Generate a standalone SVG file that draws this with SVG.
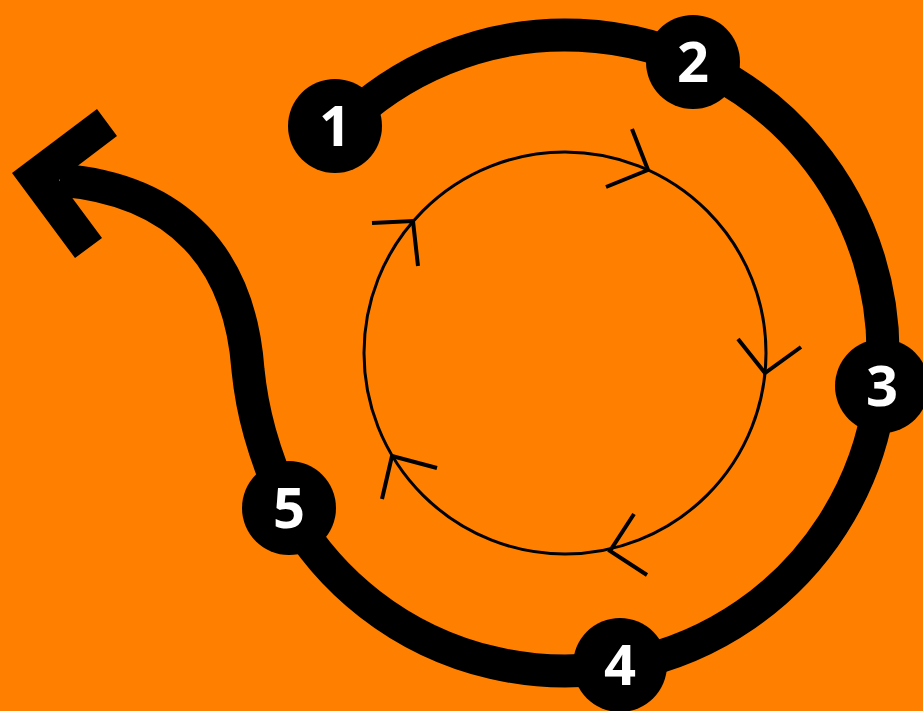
<svg xmlns="http://www.w3.org/2000/svg" width="923" height="711" viewBox="0 0 923 711">
<style>
.thick{fill:none;stroke:#000;stroke-width:33}
.thin{fill:none;stroke:#000;stroke-width:3}
.head{fill:none;stroke:#000;stroke-width:4;stroke-linecap:butt}
.node circle{fill:#000}
.node text{fill:#fff;font-family:"Open Sans","Liberation Sans",sans-serif;font-weight:bold;font-size:56px;text-anchor:middle}
</style>
<rect width="923" height="711" fill="#FF7F00"/>
<g id="connectors">
<path class="thick" d="M 340.1,128.1 A 318 318 0 1 1 287.7,508.6 C 262,450 252,410 248,370 C 240,260 180,190 60,180"/>
<polygon points="12,173 97,109 117,136 59,180 102,238 75,258" fill="#000"/>
<circle class="thin" cx="565" cy="353" r="201"/>
<polyline class="head" points="632,129 648,170 606,187"/>
<polyline class="head" points="738,339 765,373 801,347"/>
<polyline class="head" points="634,514 610,551 647,575"/>
<polyline class="head" points="437,468 392,456 382,499"/>
<polyline class="head" points="372,223 413,221 418,266"/>
</g>
<g id="node1" class="node"><circle cx="335" cy="126" r="47"/><text x="335" y="146">1</text></g>
<g id="node2" class="node"><circle cx="693" cy="62" r="47"/><text x="693" y="82">2</text></g>
<g id="node3" class="node"><circle cx="882" cy="386" r="47"/><text x="882" y="406">3</text></g>
<g id="node4" class="node"><circle cx="620" cy="665" r="47"/><text x="620" y="685">4</text></g>
<g id="node5" class="node"><circle cx="289" cy="508" r="47"/><text x="289" y="528">5</text></g>
</svg>
